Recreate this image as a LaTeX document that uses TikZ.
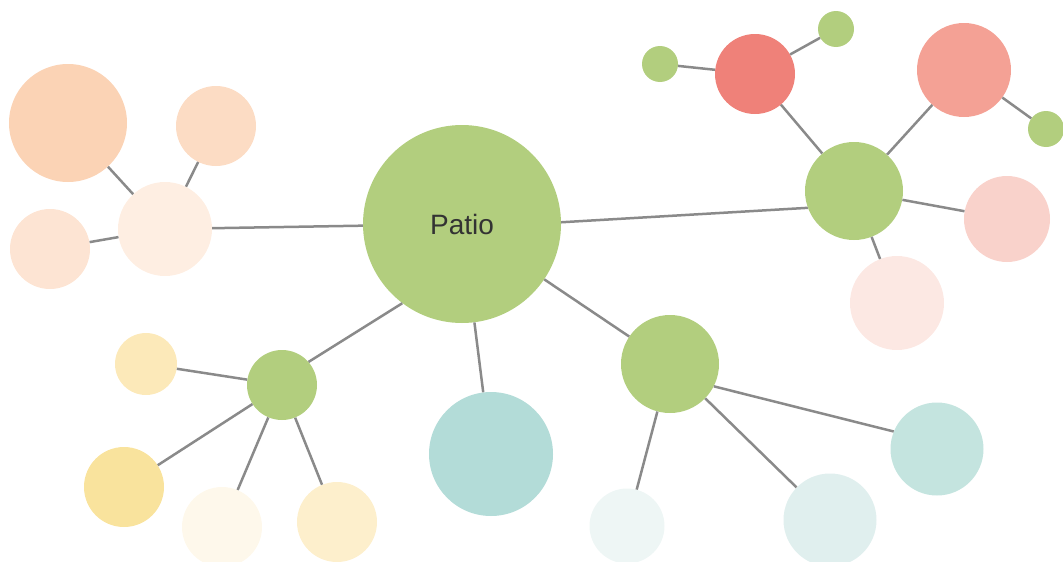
\documentclass[tikz,border=0pt]{standalone}
\usepackage{fontspec}
\setmainfont{Liberation Sans}
\usepackage{tikz}
\definecolor{gruen}{HTML}{B2CE7E}
\definecolor{linie}{HTML}{8A8A8A}
\definecolor{orA}{HTML}{FBD3B5}
\definecolor{orB}{HTML}{FCDCC4}
\definecolor{orC}{HTML}{FDE4D3}
\definecolor{orD}{HTML}{FEEEE2}
\definecolor{rotA}{HTML}{EF8179}
\definecolor{rotB}{HTML}{F4A195}
\definecolor{rotC}{HTML}{F9D2CB}
\definecolor{rotD}{HTML}{FCE8E3}
\definecolor{geA}{HTML}{FCE9B9}
\definecolor{geB}{HTML}{F9E39D}
\definecolor{geC}{HTML}{FEF8EB}
\definecolor{geD}{HTML}{FDEFCC}
\definecolor{tuA}{HTML}{B3DCD8}
\definecolor{tuB}{HTML}{EEF6F5}
\definecolor{tuC}{HTML}{E0EFEE}
\definecolor{tuD}{HTML}{C4E4DF}
\tikzset{
  kreis/.style={circle,inner sep=0pt,minimum size=#1},
  kante/.style={linie,line width=2.5pt},
}

\begin{document}
\begin{tikzpicture}[x=1pt,y=-1pt]
  \useasboundingbox (0,0) rectangle (1063,562);
  % Mitte
  \node[kreis=198pt,fill=gruen,text=black!80,font=\fontsize{28}{30}\selectfont] (patio) at (462,224) {Patio};
  % links oben
  \node[kreis=94pt,fill=orD] (lnab) at (165,229) {};
  \node[kreis=118pt,fill=orA] (lo1) at (68,123) {};
  \node[kreis=80pt,fill=orB] (lo2) at (216,126) {};
  \node[kreis=80pt,fill=orC] (lo3) at (50,249) {};
  % links unten
  \node[kreis=70pt,fill=gruen] (unab) at (282,385) {};
  \node[kreis=62pt,fill=geA] (ge1) at (146,364) {};
  \node[kreis=80pt,fill=geB] (ge2) at (124,487) {};
  \node[kreis=80pt,fill=geC] (ge3) at (222,527) {};
  \node[kreis=80pt,fill=geD] (ge4) at (337,522) {};
  % unten
  \node[kreis=124pt,fill=tuA] (tu1) at (491,454) {};
  % rechts unten
  \node[kreis=98pt,fill=gruen] (rnab) at (670,364) {};
  \node[kreis=75pt,fill=tuB] (tu2) at (627,526) {};
  \node[kreis=93pt,fill=tuC] (tu3) at (830,520) {};
  \node[kreis=93pt,fill=tuD] (tu4) at (937,449) {};
  % rechts oben
  \node[kreis=98pt,fill=gruen] (onab) at (854,191) {};
  \node[kreis=80pt,fill=rotA] (rot1) at (755,74) {};
  \node[kreis=36pt,fill=gruen] (gk1) at (836,29) {};
  \node[kreis=36pt,fill=gruen] (gk2) at (660,64) {};
  \node[kreis=94pt,fill=rotB] (rot2) at (964,70) {};
  \node[kreis=36pt,fill=gruen] (gk3) at (1046,129) {};
  \node[kreis=86pt,fill=rotC] (rot3) at (1007,219) {};
  \node[kreis=94pt,fill=rotD] (rot4) at (897,303) {};
  % Kanten
  \draw[kante] (patio) -- (lnab);
  \foreach \z in {lo1,lo2,lo3} \draw[kante] (lnab) -- (\z);
  \draw[kante] (patio.233) -- (unab.41);
  \foreach \z in {ge1,ge2,ge3,ge4} \draw[kante] (unab) -- (\z);
  \draw[kante] (patio) -- (tu1);
  \draw[kante] (patio) -- (rnab);
  \draw[kante] (rnab) -- (tu2);
  \draw[kante] (rnab) -- (tu3);
  \draw[kante] (rnab.-27) -- (tu4.158);
  \draw[kante] (patio.1) -- (onab.200);
  \foreach \z in {rot1,rot2,rot3,rot4} \draw[kante] (onab) -- (\z);
  \draw[kante] (rot1) -- (gk1);
  \draw[kante] (rot1) -- (gk2);
  \draw[kante] (rot2) -- (gk3);
\end{tikzpicture}
\end{document}
